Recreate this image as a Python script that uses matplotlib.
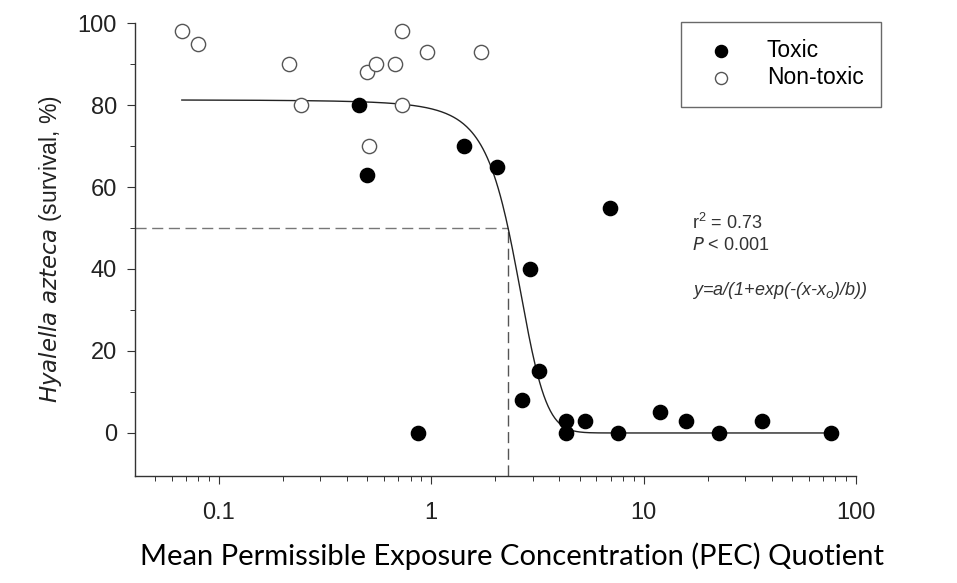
import matplotlib.pyplot as plt
import numpy as np
from matplotlib.ticker import FixedLocator, LogLocator, NullFormatter

plt.rcParams['font.family'] = ['Liberation Sans', 'DejaVu Sans']

# toxic samples (filled)
tox_x = [0.457, 0.499, 1.42, 2.03, 6.93, 2.91, 3.20, 2.69, 0.871, 4.30, 4.30,
         5.29, 7.56, 11.97, 15.9, 22.7, 36.0, 76.2]
tox_y = [80, 63, 70, 65, 55, 40, 15, 8, 0, 3, 0, 3, 0, 5, 3, 0, 3, 0]
# non-toxic samples (open)
non_x = [0.0668, 0.080, 0.214, 0.245, 0.499, 0.552, 0.673, 0.731, 0.731, 0.955, 1.72, 0.508]
non_y = [98, 95, 90, 80, 88, 90, 90, 98, 80, 93, 93, 70]

# fitted sigmoid y=a/(1+exp(-(x-x0)/b))
a, x0, b = 81.5, 2.5, -0.43
fit_range = (0.067, 78)
ec50_x, ec50_y = 2.29, 50

fig = plt.figure(figsize=(9.57, 5.83), dpi=100)
ax = fig.add_axes([0.141, 0.1835, 0.7535, 0.777])

xs = np.logspace(np.log10(fit_range[0]), np.log10(fit_range[1]), 600)
ax.plot(xs, a / (1 + np.exp(-(xs - x0) / b)), color='#222222', lw=1.0, zorder=2)

ax.plot([0.0403, ec50_x], [ec50_y, ec50_y], color='#777777', lw=1.0,
        dashes=(8, 4), zorder=1)
ax.plot([ec50_x, ec50_x], [-10.5, ec50_y], color='#555555', lw=1.0,
        dashes=(8, 4), zorder=1)

ax.scatter(tox_x, tox_y, s=105, color='black', zorder=3, label='Toxic')
ax.scatter(non_x, non_y, s=105, facecolor='white', edgecolor='#555555',
           linewidth=1.0, zorder=3, label='Non-toxic')

ax.set_xscale('log')
ax.set_xlim(0.0403, 100)
ax.set_ylim(-10.5, 100)
for s in ['top', 'right']:
    ax.spines[s].set_visible(False)
for s in ['left', 'bottom']:
    ax.spines[s].set_color('#333333')
    ax.spines[s].set_linewidth(1.0)

ax.yaxis.set_major_locator(FixedLocator([0, 20, 40, 60, 80, 100]))
ax.yaxis.set_minor_locator(FixedLocator([10, 30, 50, 70, 90]))
ax.xaxis.set_major_locator(FixedLocator([0.1, 1, 10, 100]))
ax.xaxis.set_minor_locator(LogLocator(base=10, subs=np.arange(2, 10)))
ax.xaxis.set_minor_formatter(NullFormatter())
ax.set_xticklabels(['0.1', '1', '10', '100'])
ax.tick_params(axis='both', which='major', length=6, width=0.8, color='#333333',
               labelsize=17, labelcolor='#222222')
ax.tick_params(axis='both', which='minor', length=3.5, width=0.7, color='#333333')
ax.tick_params(axis='x', pad=13)
ax.tick_params(axis='y', pad=7)

ax.set_ylabel('$\\it{Hyalella\\ azteca}$ (survival, %)', fontsize=16.5, color='#222222',
              labelpad=10)
ax.set_xlabel('Mean Permissible Exposure Concentration (PEC) Quotient',
              fontsize=21, family=['Lato', 'DejaVu Sans'])
ax.xaxis.set_label_coords(0.523, -0.147)

ax.text(0.773, 0.58, '$\\mathregular{r^2}$ = 0.73\n$\\it{P}$ < 0.001', transform=ax.transAxes,
        fontsize=13, color='#333333', va='top', linespacing=1.25)
ax.text(0.773, 0.41, 'y=a/(1+exp(-(x-x$_o$)/b))', transform=ax.transAxes,
        fontsize=13, style='italic', color='#333333', va='center')

leg = ax.legend(loc='upper left', bbox_to_anchor=(0.757, 1.003), fontsize=16.5,
                frameon=True, fancybox=False, edgecolor='#444444',
                borderpad=0.75, handletextpad=1.0, labelspacing=0.2,
                markerscale=0.85, borderaxespad=0)
leg.get_frame().set_linewidth(1.0)

fig.savefig('out.png', dpi=100)
